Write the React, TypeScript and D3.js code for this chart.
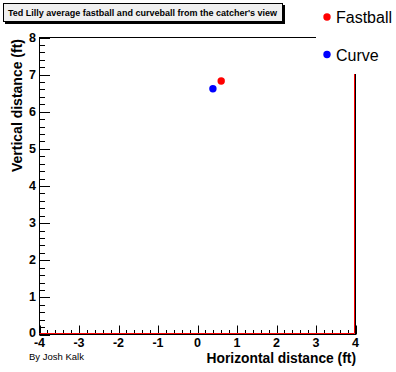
import { useRef, useEffect } from "react"
import * as d3 from "d3"

const pitches = ["Fastball", "Curve"]
const horizontal = [0.6, 0.39]
const vertical = [6.83, 6.62]
const xTicks = [-4, -3, -2, -1, 0, 1, 2, 3, 4]
const yTicks = [0, 1, 2, 3, 4, 5, 6, 7, 8]

export default function App() {
  const svgRef = useRef<SVGSVGElement>(null)

  function drawChart() {
    document.body.style.margin = "0"
    const width = 396
    const height = 372
    const left = 39.5
    const right = 355.5
    const top = 37.5
    const bottom = 334.5
    const font = "'Liberation Sans', Arial, Helvetica, sans-serif"

    const svg = d3.select(svgRef.current).attr("width", width).attr("height", height)
    svg.selectAll("*").remove()
    svg.append("rect").attr("width", width).attr("height", height).attr("fill", "white")

    const x = d3.scaleLinear().domain([-4, 4]).range([left, right])
    const y = d3.scaleLinear().domain([0, 8]).range([bottom, top])
    const color = d3.scaleOrdinal<string, string>().domain(pitches).range(["#ff0000", "#0000ff"])

    // minor + major ticks
    const ticks = svg.append("g").attr("stroke", "black").attr("stroke-width", 1)
    const xMinor = d3.range(-4, 4.001, 0.2)
    ticks
      .selectAll("line.xm")
      .data(xMinor)
      .enter()
      .append("line")
      .attr("x1", (d) => Math.round(x(d)) + 0.5)
      .attr("x2", (d) => Math.round(x(d)) + 0.5)
      .attr("y1", bottom)
      .attr("y2", (d) => bottom - (Math.abs(d - Math.round(d)) < 1e-6 ? 9 : 4.5))
    const yMinor = d3.range(0, 8.001, 0.2)
    ticks
      .selectAll("line.ym")
      .data(yMinor)
      .enter()
      .append("line")
      .attr("y1", (d) => Math.round(y(d)) + 0.5)
      .attr("y2", (d) => Math.round(y(d)) + 0.5)
      .attr("x1", left)
      .attr("x2", (d) => left + (Math.abs(d - Math.round(d)) < 1e-6 ? 10.5 : 5.5))

    // frame
    svg
      .append("rect")
      .attr("x", left)
      .attr("y", top)
      .attr("width", right - left)
      .attr("height", bottom - top)
      .attr("fill", "none")
      .attr("stroke", "black")
    svg.append("line").attr("x1", left).attr("x2", right - 1).attr("y1", bottom - 1).attr("y2", bottom - 1).attr("stroke", "#ff0000")
    svg.append("line").attr("x1", right - 1).attr("x2", right - 1).attr("y1", top).attr("y2", bottom - 1).attr("stroke", "#ff0000")

    // tick labels
    svg
      .append("g")
      .selectAll("text")
      .data(xTicks)
      .enter()
      .append("text")
      .text((d) => d)
      .attr("x", (d) => x(d))
      .attr("y", 346.5)
      .attr("text-anchor", "middle")
      .style("font-family", font)
      .style("font-weight", "bold")
      .style("font-size", "12.5px")
    svg
      .append("g")
      .selectAll("text")
      .data(yTicks)
      .enter()
      .append("text")
      .text((d) => d)
      .attr("x", 36)
      .attr("y", (d) => Math.min(y(d) + 4, 336.5))
      .attr("text-anchor", "end")
      .style("font-family", font)
      .style("font-weight", "bold")
      .style("font-size", "12.5px")

    // points
    svg
      .append("g")
      .selectAll("circle")
      .data(pitches)
      .enter()
      .append("circle")
      .attr("cx", (d, i) => x(horizontal[i]))
      .attr("cy", (d, i) => y(vertical[i]))
      .attr("r", 3.7)
      .attr("fill", (d) => color(d))

    // axis titles
    svg
      .append("text")
      .text("Horizontal distance (ft)")
      .attr("x", 356)
      .attr("y", 363)
      .attr("text-anchor", "end")
      .style("font-family", font)
      .style("font-weight", "bold")
      .style("font-size", "13.8px")
    svg
      .append("text")
      .text("Vertical distance (ft)")
      .attr("transform", "translate(22, 39) rotate(-90)")
      .attr("text-anchor", "end")
      .style("font-family", font)
      .style("font-weight", "bold")
      .style("font-size", "14px")
    svg
      .append("text")
      .text("By Josh Kalk")
      .attr("x", 29)
      .attr("y", 360)
      .style("font-family", font)
      .style("font-size", "9.5px")

    // legend
    svg.append("rect").attr("x", 316).attr("y", 0).attr("width", 80).attr("height", 74).attr("fill", "white")
    const legend = svg
      .append("g")
      .selectAll("g")
      .data(pitches)
      .enter()
      .append("g")
      .attr("transform", (d, i) => `translate(327, ${17 + i * 37.5})`)
    legend.append("circle").attr("r", 3.7).attr("fill", (d) => color(d))
    legend
      .append("text")
      .text((d) => d)
      .attr("x", 9)
      .attr("y", 6)
      .style("font-family", font)
      .style("font-size", "16px")

    // title box
    svg.append("rect").attr("x", 5).attr("y", 5).attr("width", 280).attr("height", 19).attr("fill", "black")
    svg
      .append("rect")
      .attr("x", 3.5)
      .attr("y", 3.5)
      .attr("width", 279)
      .attr("height", 18)
      .attr("fill", "#f0f0f0")
      .attr("stroke", "black")
    svg
      .append("text")
      .text("Ted Lilly average fastball and curveball from the catcher's view")
      .attr("x", 8)
      .attr("y", 16)
      .style("font-family", font)
      .style("font-weight", "bold")
      .style("font-size", "9px")
  }

  useEffect(() => {
    drawChart()
  }, [svgRef])

  return (
    <div>
      <svg ref={svgRef}></svg>
    </div>
  )
}
